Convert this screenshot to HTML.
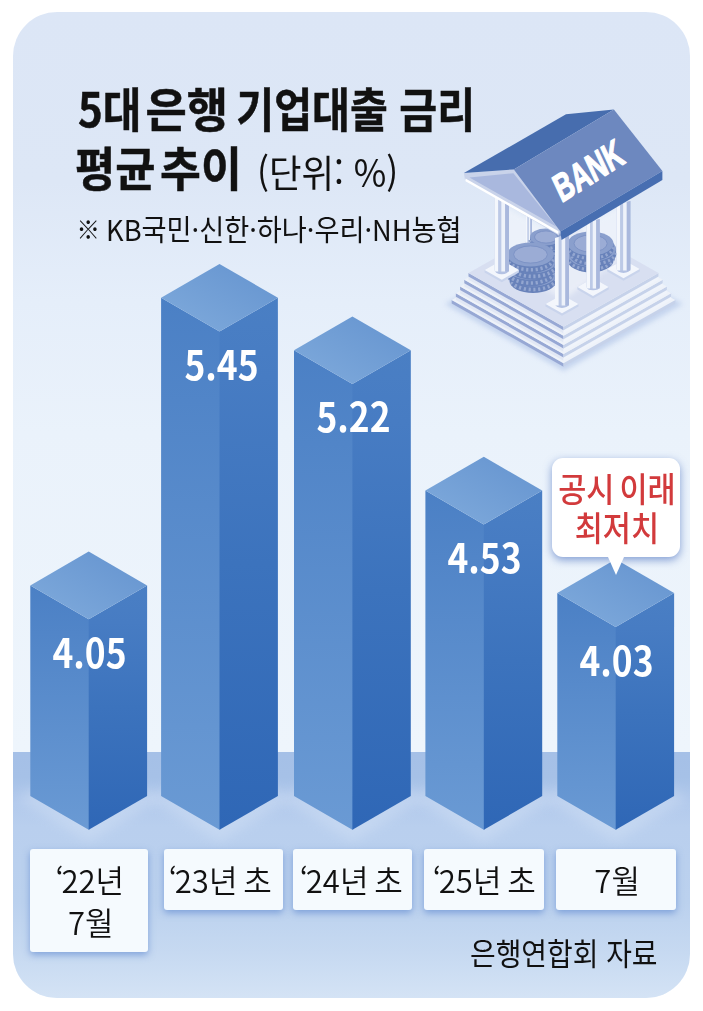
<!DOCTYPE html>
<html lang="ko">
<head>
<meta charset="utf-8">
<title>5대 은행 기업대출 금리 평균 추이</title>
<style>
html,body{margin:0;padding:0;background:#fff;}
body{width:703px;height:1011px;position:relative;overflow:hidden;font-family:"Noto Sans CJK KR","Liberation Sans","NanumGothic",sans-serif;color:#111;}
.card{position:absolute;left:13px;top:12px;width:677px;height:986px;border-radius:44px;overflow:hidden;
 background:linear-gradient(180deg,#dce6f6 0px,#dde7f6 170px,#e5eefa 290px,#eaf2fb 420px,#eef5fc 738px);}
.floor{position:absolute;left:0;top:739.5px;width:677px;height:246.5px;
 background:linear-gradient(180deg,#a5c0e7 0px,#a6c1e7 25px,#b3caec 52px,#b9cfee 75px,#bbd1ee 150px,#c6d9f1 200px,#d4e3f5 246px);}
svg.g{position:absolute;left:0;top:0;}
.t{position:absolute;white-space:nowrap;transform-origin:0 0;}
.title{font-weight:700;font-size:47px;line-height:1;transform:scaleX(.876);}
.title{-webkit-text-stroke:.5px #111;}
.title span{display:inline-block;}
.unit{font-size:38px;line-height:1;transform:scaleX(.93);}
.sub{font-size:29px;line-height:1;transform:scaleX(.938);}
.sub b{font-weight:400;font-size:25px;position:relative;top:-1.5px;margin-left:.5px;margin-right:-1.6px;}
.val{position:absolute;color:#fff;font-weight:700;font-size:40.5px;line-height:1;text-align:center;width:136.8px;}
.val span{display:inline-block;transform:scaleX(.873);}
.lab{position:absolute;background:#f5fafe;border-radius:3px;box-shadow:0 3px 7px rgba(75,120,200,.55);text-align:center;font-size:31.5px;line-height:42px;padding-top:8.5px;box-sizing:border-box;word-spacing:-3px;}
.lab span{display:inline-block;position:relative;transform:scaleX(.985);white-space:nowrap;font-weight:350;}
.lab em{font-style:normal;margin-right:-2.4px;}
.lab i{font-style:normal;position:relative;left:1px;}
.call{position:absolute;left:552.2px;top:457.5px;width:128px;height:99.5px;background:#fff;border-radius:11px;box-shadow:0 3px 8px rgba(60,100,185,.6);}
.call:after{content:"";position:absolute;left:55.5px;top:99px;border-left:8px solid transparent;border-right:8px solid transparent;border-top:18px solid #fff;}
.callt{position:absolute;left:552.2px;top:467.5px;width:128px;text-align:center;color:#d23a3c;font-weight:500;font-size:33.8px;line-height:39.1px;word-spacing:-4px;}
.callt span{display:inline-block;transform:scaleX(.905);white-space:nowrap;}
.src{font-size:31px;line-height:1;transform:scaleX(.9);}
</style>
</head>
<body>
<div class="card"><div class="floor"></div></div>
<svg class="g" width="703" height="1011" viewBox="0 0 703 1011">
<defs>
<linearGradient id="gl" x1="0" y1="0" x2="0" y2="1"><stop offset="0" stop-color="#4b80c5"/><stop offset="1" stop-color="#6a9ad4"/></linearGradient>
<linearGradient id="gr" x1="0" y1="0" x2="0" y2="1"><stop offset="0" stop-color="#4a7fc4"/><stop offset=".15" stop-color="#477cc3"/><stop offset=".5" stop-color="#3c73bd"/><stop offset="1" stop-color="#2f67b6"/></linearGradient>
<linearGradient id="gt" x1="1" y1="0" x2="0" y2="1"><stop offset="0" stop-color="#6493cf"/><stop offset="1" stop-color="#80abdc"/></linearGradient>
<filter id="bl" x="-20%" y="-20%" width="140%" height="140%"><feGaussianBlur stdDeviation="2.5"/></filter>
<filter id="bl2" x="-30%" y="-30%" width="160%" height="160%"><feGaussianBlur stdDeviation="6"/></filter>
<clipPath id="cc"><rect x="13" y="12" width="677" height="986" rx="44"/></clipPath>
</defs>
<g clip-path="url(#cc)">
<polygon points="16.3,798 88.7,841.8 161.1,798 88.7,762.2" fill="#e4eefb" opacity=".28" filter="url(#bl2)"/>
<polygon points="147.1,798 219.5,841.8 291.9,798 219.5,762.2" fill="#e4eefb" opacity=".28" filter="url(#bl2)"/>
<polygon points="280.0,798 352.4,841.8 424.8,798 352.4,762.2" fill="#e4eefb" opacity=".28" filter="url(#bl2)"/>
<polygon points="411.4,798 483.8,841.8 556.2,798 483.8,762.2" fill="#e4eefb" opacity=".28" filter="url(#bl2)"/>
<polygon points="543.3,798 615.7,841.8 688.1,798 615.7,762.2" fill="#e4eefb" opacity=".28" filter="url(#bl2)"/>
</g>
<polygon points="30.3,585.4 88.7,619.2 89.7,618.7 89.7,829.3 88.7,829.8 30.3,796" fill="url(#gl)"/>
<polygon points="88.7,619.2 147.1,585.4 147.1,796 88.7,829.8" fill="url(#gr)"/>
<polygon points="88.7,551.6 147.1,585.4 88.7,619.2 30.3,585.4" fill="url(#gt)"/>
<polygon points="161.1,297.8 219.5,331.6 220.5,331.1 220.5,829.3 219.5,829.8 161.1,796" fill="url(#gl)"/>
<polygon points="219.5,331.6 277.9,297.8 277.9,796 219.5,829.8" fill="url(#gr)"/>
<polygon points="219.5,264 277.9,297.8 219.5,331.6 161.1,297.8" fill="url(#gt)"/>
<polygon points="294,350.2 352.4,384.0 353.4,383.5 353.4,829.3 352.4,829.8 294,796" fill="url(#gl)"/>
<polygon points="352.4,384.0 410.8,350.2 410.8,796 352.4,829.8" fill="url(#gr)"/>
<polygon points="352.4,316.4 410.8,350.2 352.4,384.0 294,350.2" fill="url(#gt)"/>
<polygon points="425.4,490.6 483.8,524.4 484.8,523.9 484.8,829.3 483.8,829.8 425.4,796" fill="url(#gl)"/>
<polygon points="483.8,524.4 542.2,490.6 542.2,796 483.8,829.8" fill="url(#gr)"/>
<polygon points="483.8,456.8 542.2,490.6 483.8,524.4 425.4,490.6" fill="url(#gt)"/>
<polygon points="557.3,593.1 615.7,626.9 616.7,626.4 616.7,829.3 615.7,829.8 557.3,796" fill="url(#gl)"/>
<polygon points="615.7,626.9 674.1,593.1 674.1,796 615.7,829.8" fill="url(#gr)"/>
<polygon points="615.7,559.3 674.1,593.1 615.7,626.9 557.3,593.1" fill="url(#gt)"/>
<g id="bank">
<polygon points="445.0,304.0 563.5,371.0 683.0,304.0 563.5,240.0" fill="#b9cbea" opacity=".75" filter="url(#bl)"/>
<polygon points="451.7,300.0 563.5,363.2 563.5,366.7 451.7,303.5" fill="#97a8d4"/>
<polygon points="563.5,363.2 675.3,300.0 675.3,303.5 563.5,366.7" fill="#c6d2ea"/>
<polygon points="451.7,300.0 563.5,363.2 675.3,300.0 563.5,236.8" fill="#eef2f9"/>
<polygon points="455.9,293.2 563.5,354.0 563.5,360.8 455.9,300.0" fill="#e2e8f5"/>
<polygon points="563.5,354.0 671.1,293.2 671.1,300.0 563.5,360.8" fill="#f0f4fb"/>
<polygon points="455.9,293.2 563.5,354.0 563.5,357.5 455.9,296.8" fill="#97a8d4"/>
<polygon points="563.5,354.0 671.1,293.2 671.1,296.8 563.5,357.5" fill="#c6d2ea"/>
<polygon points="455.9,293.2 563.5,354.0 671.1,293.2 563.5,232.5" fill="#eef2f9"/>
<polygon points="460.1,286.5 563.5,344.9 563.5,351.7 460.1,293.2" fill="#e2e8f5"/>
<polygon points="563.5,344.9 666.9,286.5 666.9,293.2 563.5,351.7" fill="#f0f4fb"/>
<polygon points="460.1,286.5 563.5,344.9 563.5,348.4 460.1,290.0" fill="#97a8d4"/>
<polygon points="563.5,344.9 666.9,286.5 666.9,290.0 563.5,348.4" fill="#c6d2ea"/>
<polygon points="460.1,286.5 563.5,344.9 666.9,286.5 563.5,228.1" fill="#eef2f9"/>
<polygon points="464.3,279.8 563.5,335.8 563.5,342.5 464.3,286.5" fill="#e2e8f5"/>
<polygon points="563.5,335.8 662.7,279.8 662.7,286.5 563.5,342.5" fill="#f0f4fb"/>
<polygon points="464.3,279.8 563.5,335.8 563.5,339.3 464.3,283.2" fill="#97a8d4"/>
<polygon points="563.5,335.8 662.7,279.8 662.7,283.2 563.5,339.3" fill="#c6d2ea"/>
<polygon points="464.3,279.8 563.5,335.8 662.7,279.8 563.5,223.7" fill="#eef2f9"/>
<polygon points="468.5,273.0 563.5,326.7 563.5,333.4 468.5,279.8" fill="#e2e8f5"/>
<polygon points="563.5,326.7 658.5,273.0 658.5,279.8 563.5,333.4" fill="#f0f4fb"/>
<polygon points="468.5,273.0 563.5,326.7 563.5,330.2 468.5,276.5" fill="#97a8d4"/>
<polygon points="563.5,326.7 658.5,273.0 658.5,276.5 563.5,330.2" fill="#c6d2ea"/>
<polygon points="468.5,273.0 563.5,326.7 658.5,273.0 563.5,219.3" fill="#d8dff1"/>
<polygon points="503.0,205.0 562.0,238.0 622.0,205.0 622.0,258.0 563.0,300.0 503.0,262.0" fill="#f4f7fc" opacity=".6" filter="url(#bl)"/>
<path d="M526.0,214.0 L532.0,212.2 L532.0,244.0 a3.0,1.7 0 0 1 -6.0,0 z" fill="#b4c2e3"/>
<polygon points="526.0,214.0 527.6,213.5 527.6,245.5 526.0,245.5" fill="#f4f7fc"/>
<polygon points="527.6,213.5 528.8,213.2 528.8,245.5 527.6,245.5" fill="#bcc9e6"/>
<polygon points="528.8,213.2 530.4,212.7 530.4,245.5 528.8,245.5" fill="#eef2fa"/>
<polygon points="530.4,212.7 532.0,212.2 532.0,245.5 530.4,245.5" fill="#a9b8dd"/>
<path d="M532.5,243.0 v6.0 a16,8.5 0 0 0 32.0,0 v-6.0 z" fill="#6882ba"/>
<path d="M532.5,246.0 a16,8.5 0 0 0 32.0,0" fill="none" stroke="#93a6d0" stroke-width="3.3" stroke-dasharray="2.2 2.6"/>
<ellipse cx="548.5" cy="243.0" rx="16" ry="8.5" fill="#8a9fcd"/>
<path d="M530.0,237.0 v6.0 a16,8.5 0 0 0 32.0,0 v-6.0 z" fill="#6882ba"/>
<path d="M530.0,240.0 a16,8.5 0 0 0 32.0,0" fill="none" stroke="#93a6d0" stroke-width="3.3" stroke-dasharray="2.2 2.6"/>
<ellipse cx="546.0" cy="237.0" rx="16" ry="8.5" fill="#8a9fcd"/>
<ellipse cx="546.0" cy="237.0" rx="11.5" ry="6.1" fill="#9bacd5" stroke="#7d93c6" stroke-width="1"/>
<path d="M567.6,254.7 v5.6 a23,12 0 0 0 46.0,0 v-5.6 z" fill="#6882ba"/>
<path d="M567.6,257.5 a23,12 0 0 0 46.0,0" fill="none" stroke="#93a6d0" stroke-width="3.1" stroke-dasharray="2.2 2.6"/>
<ellipse cx="590.6" cy="254.7" rx="23" ry="12" fill="#8a9fcd"/>
<path d="M570.1,249.1 v5.6 a23,12 0 0 0 46.0,0 v-5.6 z" fill="#6882ba"/>
<path d="M570.1,251.9 a23,12 0 0 0 46.0,0" fill="none" stroke="#93a6d0" stroke-width="3.1" stroke-dasharray="2.2 2.6"/>
<ellipse cx="593.1" cy="249.1" rx="23" ry="12" fill="#8a9fcd"/>
<path d="M567.6,243.5 v5.6 a23,12 0 0 0 46.0,0 v-5.6 z" fill="#6882ba"/>
<path d="M567.6,246.3 a23,12 0 0 0 46.0,0" fill="none" stroke="#93a6d0" stroke-width="3.1" stroke-dasharray="2.2 2.6"/>
<ellipse cx="590.6" cy="243.5" rx="23" ry="12" fill="#8a9fcd"/>
<ellipse cx="590.6" cy="243.5" rx="16.6" ry="8.6" fill="#9bacd5" stroke="#7d93c6" stroke-width="1"/>
<path d="M509.5,274.3 v6.6 a23.5,12 0 0 0 47.0,0 v-6.6 z" fill="#6882ba"/>
<path d="M509.5,277.6 a23.5,12 0 0 0 47.0,0" fill="none" stroke="#93a6d0" stroke-width="3.6" stroke-dasharray="2.2 2.6"/>
<ellipse cx="533.0" cy="274.3" rx="23.5" ry="12" fill="#8a9fcd"/>
<path d="M507.0,267.7 v6.6 a23.5,12 0 0 0 47.0,0 v-6.6 z" fill="#6882ba"/>
<path d="M507.0,271.0 a23.5,12 0 0 0 47.0,0" fill="none" stroke="#93a6d0" stroke-width="3.6" stroke-dasharray="2.2 2.6"/>
<ellipse cx="530.5" cy="267.7" rx="23.5" ry="12" fill="#8a9fcd"/>
<path d="M509.5,261.1 v6.6 a23.5,12 0 0 0 47.0,0 v-6.6 z" fill="#6882ba"/>
<path d="M509.5,264.4 a23.5,12 0 0 0 47.0,0" fill="none" stroke="#93a6d0" stroke-width="3.6" stroke-dasharray="2.2 2.6"/>
<ellipse cx="533.0" cy="261.1" rx="23.5" ry="12" fill="#8a9fcd"/>
<path d="M507.0,254.5 v6.6 a23.5,12 0 0 0 47.0,0 v-6.6 z" fill="#6882ba"/>
<path d="M507.0,257.8 a23.5,12 0 0 0 47.0,0" fill="none" stroke="#93a6d0" stroke-width="3.6" stroke-dasharray="2.2 2.6"/>
<ellipse cx="530.5" cy="254.5" rx="23.5" ry="12" fill="#8a9fcd"/>
<ellipse cx="530.5" cy="254.5" rx="16.9" ry="8.6" fill="#9bacd5" stroke="#7d93c6" stroke-width="1"/>
<polygon points="484.6,272.5 501.8,282.2 518.9,272.5 518.9,270.0 501.8,260.3 484.6,270.0" fill="#c9d4ec"/>
<polygon points="484.6,270.0 501.8,279.7 518.9,270.0 501.8,260.3" fill="#f3f6fc"/>
<path d="M494.5,196.0 L509.0,191.7 L509.0,270.0 a7.2,4.1 0 0 1 -14.5,0 z" fill="#b4c2e3"/>
<polygon points="494.5,196.0 498.4,194.8 498.4,271.5 494.5,271.5" fill="#f4f7fc"/>
<polygon points="498.4,194.8 501.3,194.0 501.3,271.5 498.4,271.5" fill="#bcc9e6"/>
<polygon points="501.3,194.0 505.2,192.8 505.2,271.5 501.3,271.5" fill="#eef2fa"/>
<polygon points="505.2,192.8 509.0,191.7 509.0,271.5 505.2,271.5" fill="#a9b8dd"/>
<polygon points="607.2,271.5 623.5,280.7 639.8,271.5 639.8,269.0 623.5,259.8 607.2,269.0" fill="#c9d4ec"/>
<polygon points="607.2,269.0 623.5,278.2 639.8,269.0 623.5,259.8" fill="#f3f6fc"/>
<path d="M616.6,205.0 L630.4,200.9 L630.4,269.0 a6.9,3.9 0 0 1 -13.8,0 z" fill="#b4c2e3"/>
<polygon points="616.6,205.0 620.3,203.9 620.3,270.5 616.6,270.5" fill="#f4f7fc"/>
<polygon points="620.3,203.9 623.1,203.1 623.1,270.5 620.3,270.5" fill="#bcc9e6"/>
<polygon points="623.1,203.1 626.8,201.9 626.8,270.5 623.1,270.5" fill="#eef2fa"/>
<polygon points="626.8,201.9 630.4,200.9 630.4,270.5 626.8,270.5" fill="#a9b8dd"/>
<polygon points="577.4,289.5 593.0,298.4 608.7,289.5 608.7,287.0 593.0,278.1 577.4,287.0" fill="#c9d4ec"/>
<polygon points="577.4,287.0 593.0,295.9 608.7,287.0 593.0,278.1" fill="#f3f6fc"/>
<path d="M586.4,223.0 L599.7,219.0 L599.7,287.0 a6.7,3.7 0 0 1 -13.3,0 z" fill="#b4c2e3"/>
<polygon points="586.4,223.0 590.0,221.9 590.0,288.5 586.4,288.5" fill="#f4f7fc"/>
<polygon points="590.0,221.9 592.7,221.1 592.7,288.5 590.0,288.5" fill="#bcc9e6"/>
<polygon points="592.7,221.1 596.2,220.0 596.2,288.5 592.7,288.5" fill="#eef2fa"/>
<polygon points="596.2,220.0 599.7,219.0 599.7,288.5 596.2,288.5" fill="#a9b8dd"/>
<polygon points="545.5,306.5 562.0,315.8 578.5,306.5 578.5,304.0 562.0,294.7 545.5,304.0" fill="#c9d4ec"/>
<polygon points="545.5,304.0 562.0,313.3 578.5,304.0 562.0,294.7" fill="#f3f6fc"/>
<path d="M555.0,238.0 L569.0,233.8 L569.0,304.0 a7.0,3.9 0 0 1 -14.0,0 z" fill="#b4c2e3"/>
<polygon points="555.0,238.0 558.8,236.9 558.8,305.5 555.0,305.5" fill="#f4f7fc"/>
<polygon points="558.8,236.9 561.6,236.0 561.6,305.5 558.8,305.5" fill="#bcc9e6"/>
<polygon points="561.6,236.0 565.4,234.9 565.4,305.5 561.6,305.5" fill="#eef2fa"/>
<polygon points="565.4,234.9 569.0,233.8 569.0,305.5 565.4,305.5" fill="#a9b8dd"/>
<polygon points="463.9,173.1 513.8,169.4 560.4,231.4 558.9,235.4 464.9,179.6" fill="#c9d3ea"/>
<polygon points="469.5,177.6 513.4,173.2 556.5,226.8" fill="#a9b8de"/>
<polygon points="465.5,178.5 558.5,231.2 558.2,234.0 465.5,181.3" fill="#ffffff"/>
<polygon points="463.9,173.1 566.0,114.3 613.9,109.6 513.8,169.4" fill="#476dae"/>
<polygon points="513.8,169.4 613.9,109.6 662.4,171.0 560.4,231.4" fill="#6d88bf"/>
<polygon points="560.4,231.4 662.4,171.0 662.4,180.0 561.5,240.0" fill="#476eb1"/>
<text transform="matrix(0.5852 -0.3656 0.4250 0.9050 561.5 203.1)" font-family="'Liberation Sans',sans-serif" font-weight="700" font-size="38.5" fill="#fff" stroke="#fff" stroke-width="1.3" stroke-linejoin="round">BANK</text>
</g>
</svg>
<div class="val" style="left:21.1px;top:630.7px;"><span>4.05</span></div>
<div class="val" style="left:153.1px;top:343.1px;"><span>5.45</span></div>
<div class="val" style="left:285.3px;top:395.0px;"><span>5.22</span></div>
<div class="val" style="left:415.7px;top:535.9px;"><span>4.53</span></div>
<div class="val" style="left:547.6px;top:639.4px;"><span>4.03</span></div>
<div class="lab" style="left:30.1px;top:849px;width:118.3px;height:103.3px;"><span style="left:0.5px"><em>&lsquo;</em>22년<br><i>7월</i></span></div>
<div class="lab" style="left:163.5px;top:849px;width:119.1px;height:60.6px;"><span style="left:-2.5px"><em>&lsquo;</em>23년 초</span></div>
<div class="lab" style="left:293px;top:849px;width:119.4px;height:60.6px;"><span style="left:-1px"><em>&lsquo;</em>24년 초</span></div>
<div class="lab" style="left:424.4px;top:849px;width:119.5px;height:60.6px;"><span style="left:0.5px"><em>&lsquo;</em>25년 초</span></div>
<div class="lab" style="left:555.6px;top:849px;width:120.3px;height:60.6px;"><span style="left:1px">7월</span></div>
<div class="call"></div>
<div class="callt"><span>공시 이래<br>최저치</span></div>
<div class="t src" style="left:470px;top:935.5px;">은행연합회 자료</div>
<div class="t title" style="left:78px;top:82.5px;"><span style="margin-right:-7.2px;transform:scaleX(1.02);transform-origin:0 0">5대</span> <span style="margin-right:4.1px;transform:scaleX(1.09);transform-origin:0 0">은행</span> 기업대출 금리</div>
<div class="t title" style="left:75.4px;top:141.5px;transform:scaleX(.885)"><span style="transform:scaleX(1.05);transform-origin:0 0">평균</span> <span style="transform:scaleX(1.068);transform-origin:100% 0;margin-left:2.2px">추이</span></div>
<div class="t unit" style="left:256.7px;top:151.5px;">(단위: %)</div>
<div class="t sub" style="left:76px;top:213.5px;"><b>※</b> KB국민·신한·하나·우리·NH농협</div>
</body>
</html>
